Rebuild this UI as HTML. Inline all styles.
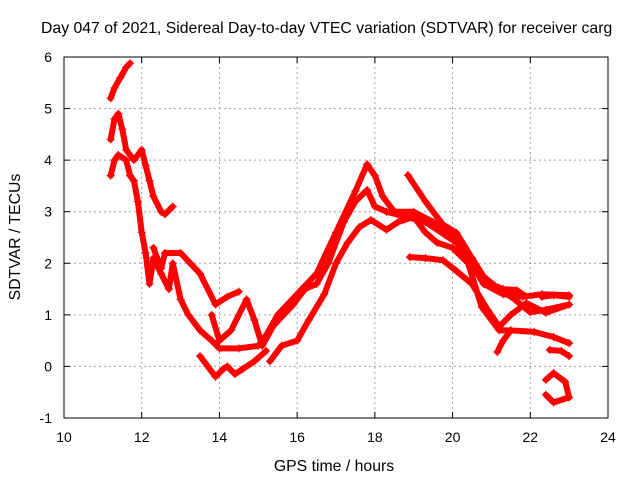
<!DOCTYPE html>
<html><head><meta charset="utf-8"><style>
html,body{margin:0;padding:0;background:#fff;width:640px;height:480px;overflow:hidden}
svg text{font-family:"Liberation Sans",sans-serif;font-size:14px;fill:#000}
</style></head><body>
<svg id="chart" width="640" height="480">
<text x="41" y="33" text-anchor="start" style="font-size:15.8px">Day 047 of 2021, Sidereal Day-to-day VTEC variation (SDTVAR) for receiver carg</text>
<g id="grid"></g>
<g id="marks"></g>
<rect x="64" y="57" width="544" height="361" fill="none" stroke="#000"/>
<g id="ticks"></g>
<text x="334" y="471" text-anchor="middle" style="font-size:15.8px">GPS time / hours</text>
<text transform="translate(20,237) rotate(-90)" text-anchor="middle" style="font-size:15.8px">SDTVAR / TECUs</text>
</svg>
<script>
const xTicks=[10,12,14,16,18,20,22,24];
const yTicks=[-1,0,1,2,3,4,5,6];
const track1=[[11.2,5.2],[11.3,5.4],[11.45,5.6],[11.6,5.8],[11.7,5.88]];
const track2=[[11.2,4.4],[11.3,4.8],[11.4,4.9],[11.5,4.6],[11.6,4.2],[11.8,4.0],[12.0,4.2],[12.1,3.9],[12.2,3.6],[12.3,3.3],[12.5,3.0],[12.6,2.95],[12.8,3.1]];
const track3=[[11.2,3.7],[11.3,4.0],[11.4,4.1],[11.6,4.0],[11.7,3.7],[11.8,3.6],[11.9,3.2],[12.0,2.6],[12.1,2.2],[12.2,1.6],[12.3,2.1],[12.5,1.8],[12.7,1.5],[12.8,2.0],[13.0,1.3],[13.2,1.0],[13.5,0.7],[13.8,0.5],[14.0,0.35],[14.5,0.35],[15.0,0.4],[15.2,0.6],[15.5,1.0],[16.0,1.4],[16.5,1.8],[17.0,2.6],[17.5,3.4],[17.8,3.92],[18.0,3.7],[18.2,3.3],[18.5,3.0],[19.0,3.0],[19.5,2.8],[20.0,2.5],[20.4,2.1],[20.8,1.6],[21.3,1.4],[21.8,1.35],[22.3,1.4],[23.0,1.38]];
const track4=[[12.3,2.3],[12.5,1.9],[12.6,2.2],[13.0,2.2],[13.5,1.8],[13.9,1.2],[14.2,1.35],[14.5,1.45]];
const track5=[[13.8,1.0],[14.0,0.5],[14.3,0.7],[14.7,1.3],[14.9,0.9],[15.1,0.4],[15.4,0.8],[15.9,1.2],[16.2,1.5],[16.5,1.6],[16.8,2.0],[17.2,2.8],[17.5,3.2],[17.8,3.42],[18.0,3.1],[18.3,3.0],[18.8,2.9],[19.3,2.8],[19.8,2.55],[20.3,2.3],[20.7,1.8],[21.2,1.5],[21.6,1.3],[22.0,1.05],[22.4,1.1],[23.0,1.2]];
const track6=[[15.3,0.1],[15.6,0.4],[16.0,0.5],[16.3,0.9],[16.7,1.4],[17.0,2.0],[17.3,2.4],[17.6,2.7],[17.9,2.84],[18.3,2.65],[18.6,2.8],[19.0,2.9],[19.3,2.6],[19.6,2.4],[20.0,2.3],[20.4,2.0],[20.75,1.15],[21.2,0.7],[21.5,0.7],[22.1,0.67],[22.6,0.57],[23.0,0.45]];
const track7=[[13.5,0.2],[13.7,0.0],[13.9,-0.2],[14.1,-0.05],[14.2,0.0],[14.4,-0.15],[14.6,-0.05],[14.9,0.1],[15.2,0.3]];
const track8=[[18.85,3.71],[19.3,3.2],[19.75,2.75],[20.1,2.59],[20.5,2.1],[20.9,1.62],[21.3,1.5],[21.65,1.48],[21.9,1.35]];
const track9=[[18.9,2.12],[19.3,2.1],[19.75,2.06],[20.1,1.85],[20.5,1.6],[20.9,1.1],[21.2,0.77],[21.5,1.0],[21.9,1.23],[22.4,1.04],[23.0,1.2]];
const track10=[[21.15,0.28],[21.3,0.5],[21.5,0.7]];
const track11=[[22.3,1.35],[22.6,1.38],[23.0,1.35]];
const track12=[[22.5,0.32],[22.8,0.3],[23.0,0.2]];
const track13=[[22.4,-0.26],[22.6,-0.13],[22.9,-0.3],[23.0,-0.6],[22.6,-0.7],[22.4,-0.55]];
const tracks=[track1,track2,track3,track4,track5,track6,track7,track8,track9,track10,track11,track12,track13];

const X=h=>64+(h-10)*544/14;
const Y=v=>418-(v+1)*361/7;
const NS='http://www.w3.org/2000/svg';
const grid=document.getElementById('grid'),ticks=document.getElementById('ticks'),marks=document.getElementById('marks');
function mk(tag,attrs,parent){const e=document.createElementNS(NS,tag);for(const k in attrs)e.setAttribute(k,attrs[k]);parent.appendChild(e);return e;}
xTicks.forEach(t=>{
  const x=X(t);
  if(t>10&&t<24){const g=mk('line',{x1:x,x2:x,y1:57,y2:418,stroke:'#a0a0a0','stroke-dasharray':'2,3'},grid);
  
  }
  const l=mk('line',{x1:x,x2:x,y1:418,y2:412,stroke:'#000'},ticks);
  
  
  const l2=mk('line',{x1:x,x2:x,y1:57,y2:63,stroke:'#000'},ticks);
  
  
  const tx=mk('text',{x:x,y:442,'text-anchor':'middle'},ticks);tx.textContent=t;
  
  
});
yTicks.forEach(t=>{
  const y=Y(t);
  if(t>-1&&t<6){const g=mk('line',{x1:64,x2:608,y1:y,y2:y,stroke:'#a0a0a0','stroke-dasharray':'2,3'},grid);
  
  }
  const l=mk('line',{x1:64,x2:70,y1:y,y2:y,stroke:'#000'},ticks);
  
  
  const l2=mk('line',{x1:602,x2:608,y1:y,y2:y,stroke:'#000'},ticks);
  
  
  const tx=mk('text',{x:52,y:y+5,'text-anchor':'end'},ticks);tx.textContent=t;
  
  
});
tracks.forEach((tr,i)=>{
  const p=mk('polyline',{points:tr.map(d=>X(d[0])+','+Y(d[1])).join(' '),fill:'none',stroke:'#f00','stroke-width':6,'stroke-linejoin':'round','stroke-linecap':'round'},marks);
  
  
  tr.forEach(d=>{
    const x=X(d[0]),y=Y(d[1]);
    const m=mk('path',{d:`M${x-4},${y}H${x+4}M${x},${y-4}V${y+4}`,stroke:'#f00','stroke-width':1.2},marks);
    
    
  });
});
</script>
</body></html>
